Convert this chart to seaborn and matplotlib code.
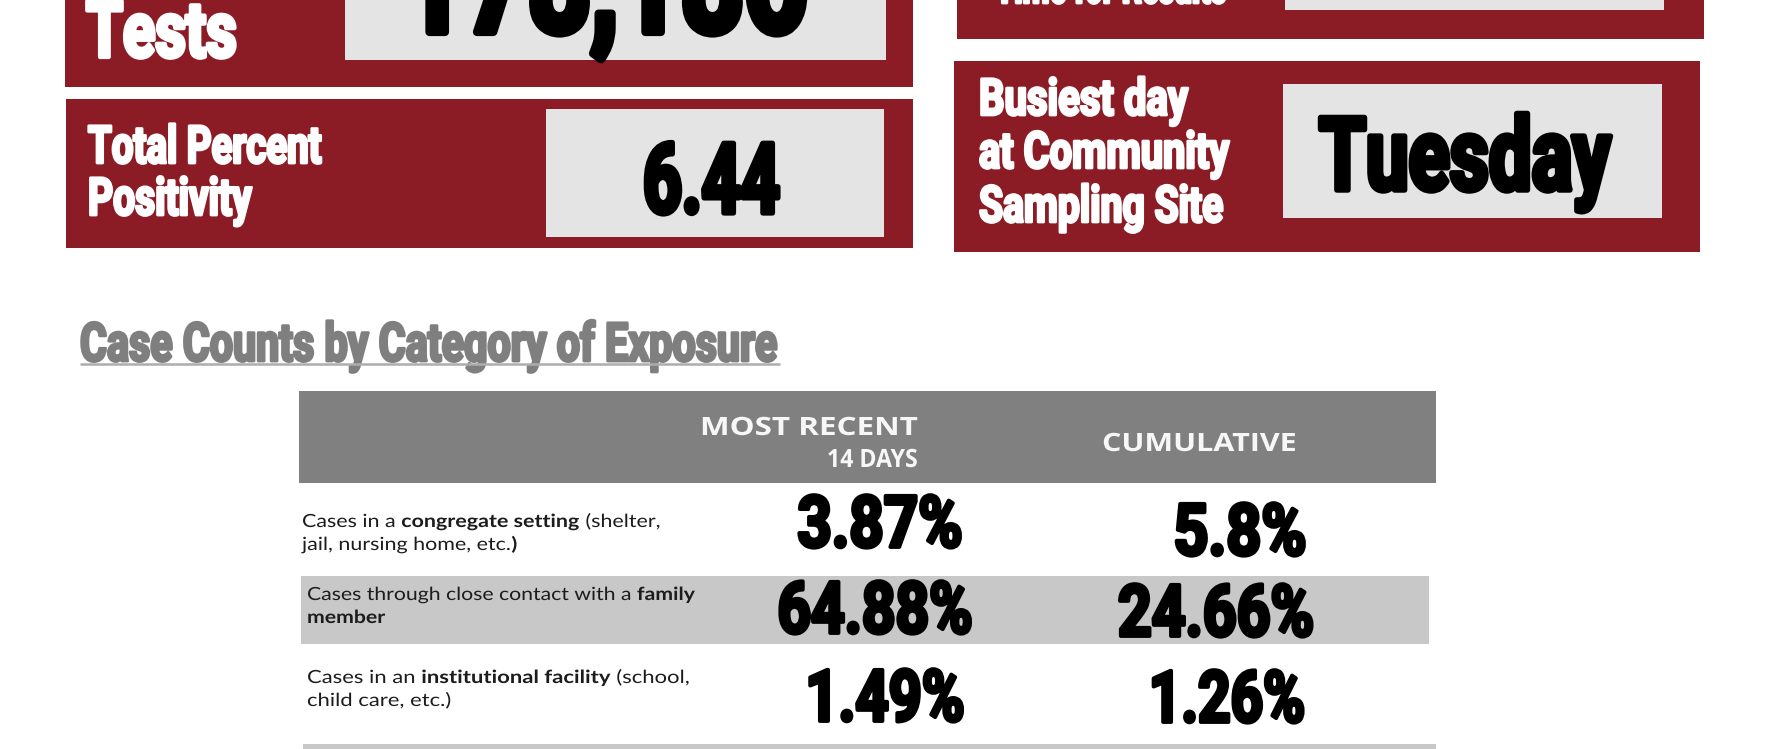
import matplotlib
matplotlib.use("Agg")
import matplotlib.pyplot as plt
import matplotlib.patheffects as pe
from matplotlib.patches import Rectangle
from matplotlib.text import Text
from matplotlib.transforms import Affine2D, Bbox
import seaborn as sns

# ---- values ----
card_titles = [["Tests"], ["Total Percent", "Positivity"],
               ["Time for Results"], ["Busiest day", "at Community", "Sampling Site"]]
card_values = ["178,186", "6.44", "", "Tuesday"]

header_recent = ["MOST RECENT", "14 DAYS"]
header_cumulative = "CUMULATIVE"

# label pieces: (text, bold, space before)
row_labels = [
    [[("Cases in a", False, False), ("congregate setting", True, True), ("(shelter,", False, True)],
     [("jail, nursing home, etc.", False, False), (")", True, False)]],
    [[("Cases through close contact with a", False, False), ("family", True, True)],
     [("member", True, False)]],
    [[("Cases in an", False, False), ("institutional facility", True, True), ("(school,", False, True)],
     [("child care, etc.)", False, False)]],
]
recent_14 = [3.87, 64.88, 1.49]
cumulative = [5.8, 24.66, 1.26]

# ---- page layout (pixels) ----
RED = "#8B1B24"
BOX = "#E4E4E4"
HEAD = "#808080"
BAND = "#C8C8C8"
HEAVY = ["Roboto", "DejaVu Sans"]

sns.set_theme(style="white")
fig = plt.figure(figsize=(17.81, 7.49), dpi=100)
ax = fig.add_axes([0, 0, 1, 1])
ax.set_xlim(0, 1781)
ax.set_ylim(749, 0)
ax.axis("off")
renderer = fig.canvas.get_renderer()


class NarrowText(Text):
    # text drawn horizontally squeezed around x_anchor
    sx = 1.0
    x_anchor = None

    def get_window_extent(self, renderer=None, dpi=None):
        bb = super().get_window_extent(renderer, dpi)
        if self.x_anchor is None:
            return bb
        x0 = self.axes.transData.transform((self.x_anchor, 0))[0]
        return Bbox.from_extents(x0 + (bb.x0 - x0) * self.sx, bb.y0,
                                 x0 + (bb.x1 - x0) * self.sx, bb.y1)


class Squeeze(pe.AbstractPathEffect):
    def __init__(self, text, lw=0.0):
        super().__init__()
        self.text = text
        self.lw = lw

    def draw_path(self, renderer, gc, tpath, affine, rgbFace=None):
        t = self.text
        x0 = t.axes.transData.transform((t.x_anchor, 0))[0]
        aff = affine + Affine2D().translate(-x0, 0).scale(t.sx, 1).translate(x0, 0)
        gc0 = renderer.new_gc()
        gc0.copy_properties(gc)
        if self.lw:
            gc0.set_linewidth(self.lw)
            gc0.set_foreground(rgbFace)
            gc0.set_joinstyle("round")
        renderer.draw_path(gc0, tpath, aff, rgbFace)
        gc0.restore()


def natural_width(t):
    return Text.get_window_extent(t, renderer).width


def word(x, y, s, cap, width, ha="left", color="black", family=HEAVY,
         weight="bold", ratio=0.711, thick=0.07):
    lw = thick * cap
    size = (cap - lw) / ratio * 0.72
    t = NarrowText(x, y, s, fontsize=size, horizontalalignment=ha,
                   verticalalignment="baseline", color=color,
                   fontfamily=family, fontweight=weight)
    ax.add_artist(t)
    t.sx = (width - lw) / natural_width(t)
    t.x_anchor = x
    t.set_path_effects([Squeeze(t, lw * 0.72)])
    return t


def rich_line(x, y, parts, cap=13, width=None, sx=None, color="#1c1c1c"):
    size = cap / 0.717 * 0.72
    kw = dict(fontsize=size, fontfamily="Lato", verticalalignment="baseline", color=color)
    a = ax.text(0, 0, "n n", **kw)
    b = ax.text(0, 0, "nn", **kw)
    space = natural_width(a) - natural_width(b)
    a.remove()
    b.remove()
    pieces = []
    cur = x
    for s, bold, gap in parts:
        if gap:
            cur += space
        t = NarrowText(cur, y, s, fontweight="bold" if bold else "normal", **kw)
        ax.add_artist(t)
        cur += natural_width(t)
        pieces.append(t)
    if sx is None:
        sx = width / (cur - x)
    for t in pieces:
        t.sx = sx
        t.x_anchor = x
        t.set_path_effects([Squeeze(t)])
    return sx


def box(x0, y0, x1, y1, color):
    ax.add_patch(Rectangle((x0, y0), x1 - x0, y1 - y0, facecolor=color,
                           edgecolor="none", zorder=1))


# ---- stat cards ----
card_red = [(65, -20, 913, 87), (66, 99, 913, 248), (957, -20, 1704, 39), (954, 61, 1700, 252)]
card_gray = [(345, -20, 886, 60), (546, 109, 884, 237), (1285, -20, 1664, 10), (1283, 84, 1662, 218)]
title_x = [86, 88, 995, 979]
title_base = [[57], [163, 215], [3], [115, 168, 222]]
title_w = [[155], [236, 166], [234], [212, 253, 247]]
title_cap = [60, 40, 40, 39]
# value text: left edge, baseline, cap height, width
value_x = [402, 643, 0, 1319]
value_base = [32, 213, 0, 190]
value_cap = [117, 75, 0, 78]
value_w = [413, 142, 0, 297]

for i in range(4):
    box(*card_red[i], RED)
    box(*card_gray[i], BOX)
    for line, yb, w in zip(card_titles[i], title_base[i], title_w[i]):
        word(title_x[i], yb, line, title_cap[i], w, color="white")
    if card_values[i]:
        word(value_x[i], value_base[i], card_values[i], value_cap[i], value_w[i])

# ---- section title ----
word(80, 361, "Case Counts by Category of Exposure", 41, 700, color="#7F7F7F")
ax.hlines(363.5, 80, 780, color="#ADADAD", lw=1.8, zorder=3)

# ---- table ----
box(299, 391, 1436, 483, HEAD)
box(301, 576, 1429, 644, BAND)
box(303, 744, 1436, 760, BAND)

word(918, 435, header_recent[0], 18, 218, ha="right", color="#F7F7F7",
     family="Open Sans", ratio=0.714, thick=0)
word(918, 467, header_recent[1], 18, 91, ha="right", color="#F7F7F7",
     family="Open Sans", ratio=0.714, thick=0)
word(1102, 451, header_cumulative, 18, 195, color="#F7F7F7",
     family="Open Sans", ratio=0.714, thick=0)

label_x = [302, 307, 307]
label_base = [(527, 550), (600, 623), (683, 706)]
label_w = [359, 388, 383]
for i, (l1, l2) in enumerate(row_labels):
    sx = rich_line(label_x[i], label_base[i][0], l1, width=label_w[i])
    rich_line(label_x[i], label_base[i][1], l2, sx=sx)

recent_x = [880, 875, 885]
recent_base = [547, 633, 721]
recent_w = [169, 199, 163]
cum_x = [1240, 1216, 1227]
cum_base = [555, 636, 722]
cum_w = [137, 200, 160]
for i in range(len(recent_14)):
    word(recent_x[i], recent_base[i], f"{recent_14[i]}%", 55, recent_w[i], ha="center")
    word(cum_x[i], cum_base[i], f"{cumulative[i]}%", 55, cum_w[i], ha="center")

fig.savefig("out.png", dpi=100, facecolor="white")
